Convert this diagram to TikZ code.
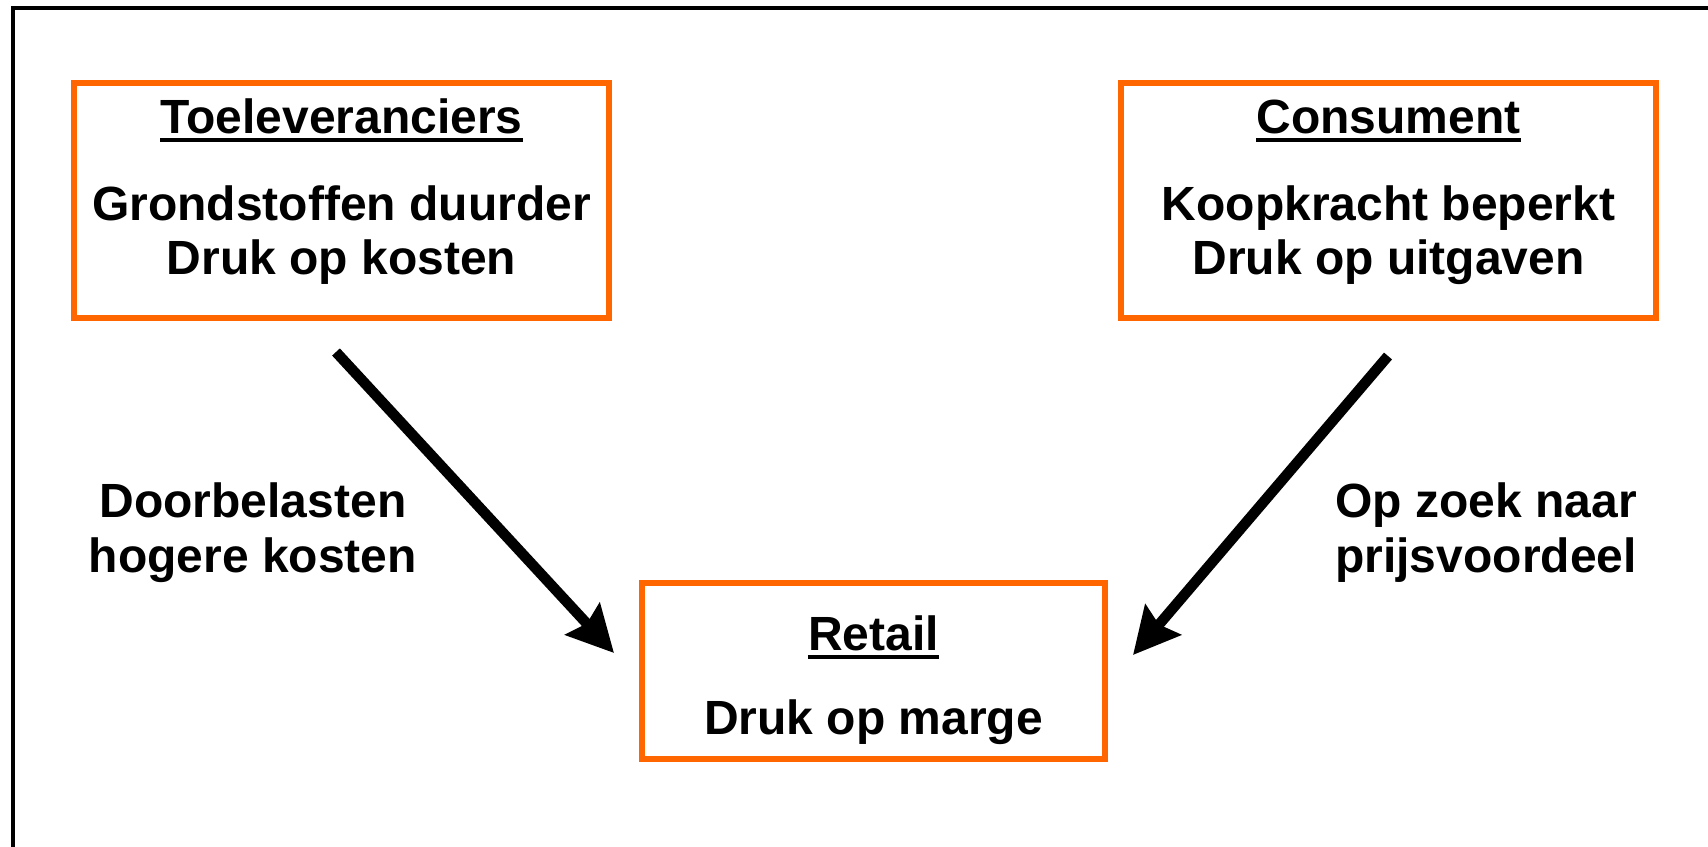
\documentclass[tikz,border=0pt]{standalone}
\usepackage{fontspec}
\setmainfont{Liberation Sans}
\usetikzlibrary{arrows.meta}
\definecolor{boxorange}{RGB}{255,102,0}
\begin{document}
\begin{tikzpicture}[x=1pt,y=-1pt,
  box/.style={draw=boxorange, line width=5.5pt, rectangle, inner sep=0pt},
  txt/.style={font=\fontsize{48}{54}\bfseries\selectfont, inner sep=0pt, anchor=base},
  uline/.style={line width=4.5pt},
  arr/.style={line width=10.5pt, -{Stealth[length=46pt,width=46pt,inset=6pt]}}]
\useasboundingbox (0,0) rectangle (1708,846);
\fill[white] (0,0) rectangle (1708,846);
\clip (0,0) rectangle (1708,846);
% frame
\draw[line width=4pt] (13,900) -- (13,8) -- (1800,8);
% boxes
\node[box, minimum width=535pt, minimum height=235pt] (sup) at (341.5,200.5) {};
\node[box, minimum width=535pt, minimum height=235pt] (con) at (1388.5,200.5) {};
\node[box, minimum width=463pt, minimum height=176pt] (ret) at (873.5,671) {};
% texts
\node[txt] (supT) at (341.5,133) {Toeleveranciers};
\node[txt] (supA) at (341.5,220) {Grondstoffen duurder};
\node[txt] (supB) at (341.5,274) {Druk op kosten};
\node[txt] (conT) at (1388.5,133) {Consument};
\node[txt] (conA) at (1388.5,220) {Koopkracht beperkt};
\node[txt] (conB) at (1388.5,274) {Druk op uitgaven};
\node[txt] (retT) at (873.5,650) {Retail};
\node[txt] (retA) at (873.5,734) {Druk op marge};
\draw[uline] ([yshift=-7pt]supT.base west) -- ([yshift=-7pt]supT.base east);
\draw[uline] ([yshift=-7pt]conT.base west) -- ([yshift=-7pt]conT.base east);
\draw[uline] ([yshift=-7pt]retT.base west) -- ([yshift=-7pt]retT.base east);
% labels
\node[txt] (l1a) at (253,517) {Doorbelasten};
\node[txt] (l1b) at (253,572) {hogere kosten};
\node[txt] (l2a) at (1486,517) {Op zoek naar};
\node[txt] (l2b) at (1486,572) {prijsvoordeel};
% arrows
\coordinate (a1s) at (336,352);
\coordinate (a1e) at (614,653);
\coordinate (a2s) at (1388,356);
\coordinate (a2e) at (1133,655);
\draw[arr] (a1s) -- (a1e);
\draw[arr] (a2s) -- (a2e);
\end{tikzpicture}
\end{document}
